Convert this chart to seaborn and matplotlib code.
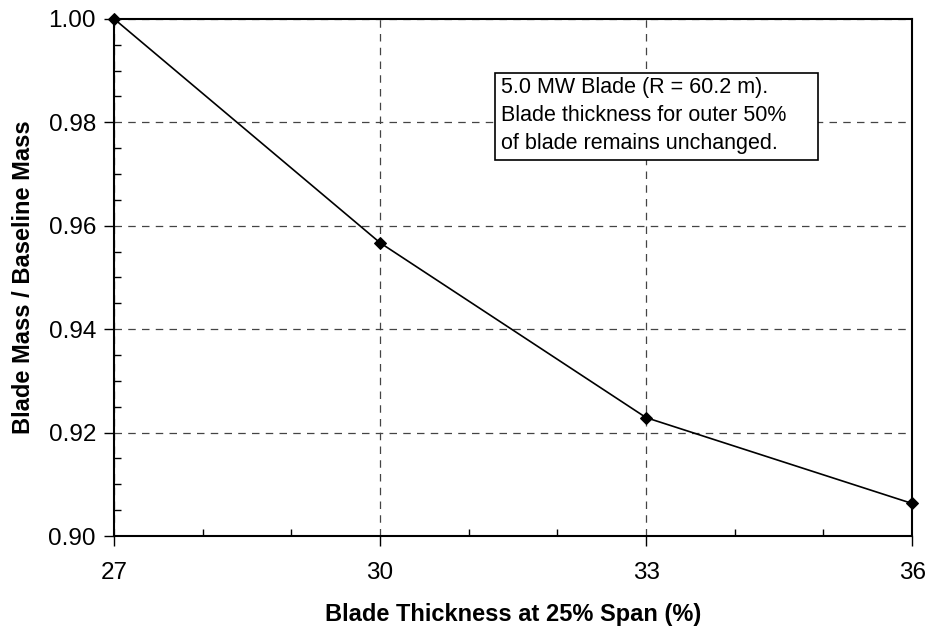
import matplotlib
matplotlib.use("Agg")
import matplotlib.pyplot as plt
from matplotlib.patches import Rectangle
from matplotlib.ticker import MultipleLocator, FormatStrFormatter
import pandas as pd
import seaborn as sns

# data
thickness = [27, 30, 33, 36]
mass_ratio = [1.000, 0.9567, 0.9229, 0.9063]

df = pd.DataFrame({"thickness": thickness, "mass_ratio": mass_ratio})

sns.set_style("white", {"xtick.bottom": True, "ytick.left": True,
                        "text.color": "black", "axes.labelcolor": "black",
                        "xtick.color": "black", "ytick.color": "black"})
plt.rcParams["font.family"] = ["Liberation Sans", "DejaVu Sans"]

fig = plt.figure(figsize=(9.27, 6.27), dpi=100)
ax = fig.add_axes([0.123, 0.145, 0.861, 0.825])

sns.lineplot(data=df, x="thickness", y="mass_ratio", ax=ax, color="black",
             linewidth=1.2, marker="D", markersize=6.5, markeredgecolor="black",
             zorder=3, clip_on=False)

ax.set_xlim(27, 36)
ax.set_ylim(0.90, 1.00)
ax.xaxis.set_major_locator(MultipleLocator(3))
ax.xaxis.set_minor_locator(MultipleLocator(1))
ax.yaxis.set_major_locator(MultipleLocator(0.02))
ax.yaxis.set_minor_locator(MultipleLocator(0.005))
ax.yaxis.set_major_formatter(FormatStrFormatter("%.2f"))

ax.tick_params(axis="both", which="major", direction="out", length=7, width=1,
               labelsize=17.5, color="black", labelcolor="black",
               bottom=True, left=True)
ax.tick_params(axis="both", which="minor", direction="in", length=5, width=1,
               color="black", bottom=True, left=True)
ax.tick_params(axis="x", which="major", pad=12)
ax.tick_params(axis="y", which="major", pad=6)

ax.grid(True, which="major", linestyle=(0, (6, 5)), color="#444444", linewidth=0.9)
for side in ax.spines.values():
    side.set_color("black")
    side.set_linewidth(1.5)

ax.set_xlabel("Blade Thickness at 25% Span (%)", fontsize=17, fontweight="bold",
              labelpad=13, color="black")
ax.set_ylabel("Blade Mass / Baseline Mass", fontsize=17, fontweight="bold",
              labelpad=10, color="black")

# annotation box
ax.add_patch(Rectangle((0.4774, 0.7273), 0.4046, 0.1683, transform=ax.transAxes,
                       facecolor="white", edgecolor="black", linewidth=1.2,
                       zorder=4))
ax.text(0.485, 0.888,
        "5.0 MW Blade (R = 60.2 m).\nBlade thickness for outer 50%\nof blade remains unchanged.",
        transform=ax.transAxes, fontsize=15.5, va="top", ha="left",
        linespacing=1.45, zorder=5, color="black")

fig.savefig("out.png", dpi=100)
